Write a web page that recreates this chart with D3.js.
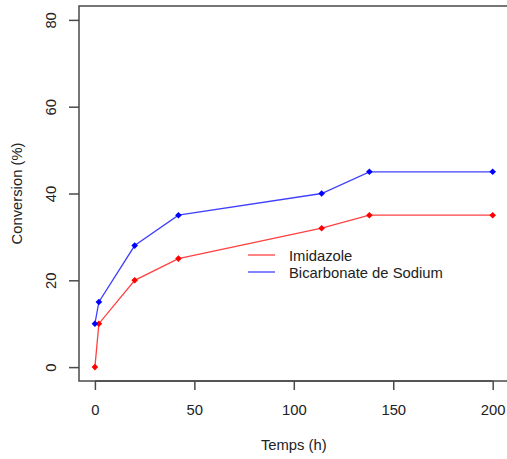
<!DOCTYPE html>
<html>
<head>
<meta charset="utf-8">
<script src="https://cdn.jsdelivr.net/npm/d3@7"></script>
<style>
body{margin:0;background:#fff;}
text{font-family:"Liberation Sans",Arial,sans-serif;fill:#222;}
</style>
</head>
<body>
<svg id="chart" width="507" height="459"></svg>
<script>
const times = [0, 2, 20, 42, 114, 138, 200];
const imidazole = [0, 10, 20, 25, 32, 35, 35];
const bicarbonate = [10, 15, 28, 35, 40, 45, 45];
const seriesNames = ["Imidazole", "Bicarbonate de Sodium"];
const seriesColors = ["#ff0000", "#0000ff"];
const xTicks = [0, 50, 100, 150, 200];
const yTicks = [0, 20, 40, 60, 80];
const xLabel = "Temps (h)";
const yLabel = "Conversion (%)";

const svg = d3.select("#chart");
const x = d3.scaleLinear().domain([-8, 208]).range([79, 508.6]);
const y = d3.scaleLinear().domain([-3.2, 83.2]).range([381, 6]);
const fs = "14.8px";

// box
svg.append("rect").attr("x", 79).attr("y", 6).attr("width", 508.6 - 79).attr("height", 375)
  .attr("fill", "none").attr("stroke", "#4a4a4a").attr("stroke-width", 1.5);

// x axis
const xAxis = d3.axisBottom(x).tickValues(xTicks).tickSize(9).tickPadding(14);
const gx = svg.append("g").attr("transform", "translate(0,381)").call(xAxis);
gx.select(".domain").remove();
gx.selectAll("line").attr("stroke", "#4a4a4a").attr("stroke-width", 1.5);
gx.selectAll("text").attr("font-size", fs).style("font-family", "Liberation Sans, Arial, sans-serif").attr("fill", "#222");
svg.append("line").attr("x1", x(0)).attr("x2", x(200)).attr("y1", 381).attr("y2", 381)
  .attr("stroke", "#4a4a4a").attr("stroke-width", 1.5);

// y axis
const yAxis = d3.axisLeft(y).tickValues(yTicks).tickSize(10).tickPadding(0);
const gy = svg.append("g").attr("transform", "translate(79,0)").call(yAxis);
gy.select(".domain").remove();
gy.selectAll("line").attr("stroke", "#4a4a4a").attr("stroke-width", 1.5);
gy.selectAll("text").attr("font-size", fs).style("font-family", "Liberation Sans, Arial, sans-serif").attr("fill", "#222")
  .attr("text-anchor", "middle")
  .attr("transform", d => `translate(${57 - 79 + 9},0) rotate(-90)`)
  .attr("x", 0).attr("dy", 0).attr("y", -10);

// axis titles
svg.append("text").attr("x", (79 + 508.6) / 2).attr("y", 450).attr("text-anchor", "middle")
  .attr("font-size", fs).text(xLabel);
svg.append("text").attr("transform", `translate(22,${(6 + 381) / 2}) rotate(-90)`).attr("text-anchor", "middle")
  .attr("font-size", fs).text(yLabel);

// series
const data = [imidazole, bicarbonate];
const line = d3.line().x((d, i) => x(times[i])).y(d => y(d));
data.forEach((vals, si) => {
  svg.append("path").datum(vals).attr("d", line).attr("fill", "none")
    .attr("stroke", seriesColors[si]).attr("stroke-width", 1.3).attr("stroke-opacity", 0.75);
  svg.append("g").selectAll("path").data(vals).join("path")
    .attr("d", d3.symbol().type(d3.symbolSquare).size(22))
    .attr("fill", seriesColors[si])
    .attr("transform", (d, i) => `translate(${x(times[i])},${y(d)}) rotate(45)`);
});

// legend
seriesNames.forEach((name, i) => {
  const ly = 255 + i * 17;
  svg.append("line").attr("x1", 248).attr("x2", 275).attr("y1", ly).attr("y2", ly)
    .attr("stroke", seriesColors[i]).attr("stroke-width", 1.3).attr("stroke-opacity", 0.75);
  svg.append("text").attr("x", 289).attr("y", ly + 5.5).attr("font-size", fs).text(name);
});
</script>
</body>
</html>
